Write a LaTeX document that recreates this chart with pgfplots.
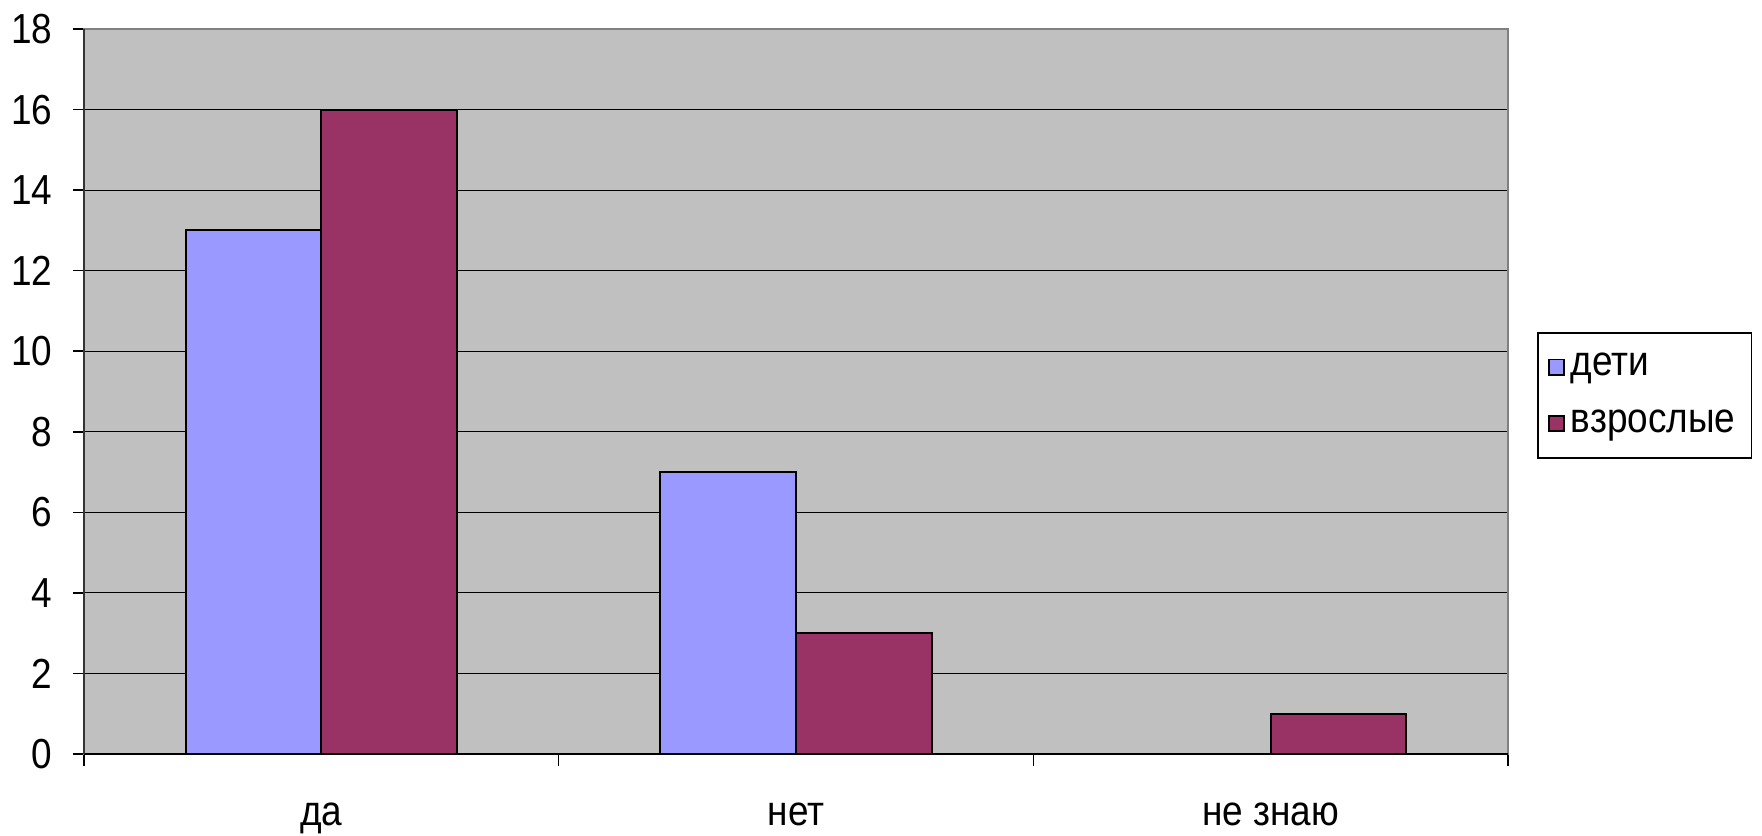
\documentclass[border=0pt]{standalone}
\usepackage{fontspec}
\setmainfont[FakeStretch=0.88]{Liberation Sans}
\usepackage{pgfplots}
\pgfplotsset{compat=1.18}
\definecolor{barblue}{HTML}{9999FF}
\definecolor{barred}{HTML}{993366}
\definecolor{bggray}{HTML}{C0C0C0}
\begin{document}
\begin{tikzpicture}
\useasboundingbox (0,0) rectangle (440.5pt,208.75pt);
\begin{axis}[
  at={(21pt,20.25pt)}, anchor=south west,
  scale only axis, width=356pt, height=181.25pt,
  xmin=0, xmax=3, ymin=0, ymax=18,
  ytick={0,2,...,18},
  xtick={0.5,1.5,2.5},
  xticklabels={да,нет,не знаю},
  minor xtick={0,1,2,3},
  major x tick style={draw=none},
  tick align=outside,
  major tick length=2.75pt, minor tick length=3pt,
  tick style={black, line width=0.4pt},
  xtick pos=bottom, ytick pos=left,
  ymajorgrids, grid style={black, line width=0.3pt},
  axis background/.style={fill=bggray},
  axis line style={draw=black!50, line width=0.5pt},
  /pgf/number format/assume math mode=true,
  tick label style={font=\fontsize{10.5}{12}\selectfont},
  yticklabel style={anchor=east, inner sep=0pt, xshift=-5pt},
  xticklabel style={anchor=base, inner sep=0pt, yshift=-15pt},
  legend style={at={(1.0204,0.582)}, anchor=north west, draw=black, line width=0.4pt,
    fill=white, font=\fontsize{10.5}{12}\selectfont, row sep=3pt,
    inner xsep=2.5pt, inner ysep=3pt,
    nodes={inner xsep=1.5pt}},
  legend cell align=left,
  legend image code/.code={\draw[#1, line width=0.45pt] (0.6pt,-1.9pt) rectangle (4.4pt,1.9pt);},
  after end axis/.code={
    \draw[black, line width=0.5pt] (rel axis cs:0,0) -- (rel axis cs:1,0);
    \draw[black!80, line width=0.5pt] (rel axis cs:0,0) -- (rel axis cs:0,1);
  },
]
\addplot[ybar, bar width=0.2857, bar shift=-0.14286, fill=barblue, draw=black, line width=0.5pt]
  coordinates {(0.5,13) (1.5,7) (2.5,0)};
\addplot[ybar, bar width=0.2857, bar shift=0.14286, fill=barred, draw=black, line width=0.5pt]
  coordinates {(0.5,16) (1.5,3) (2.5,1)};
\legend{дети, взрослые}
\end{axis}
\end{tikzpicture}
\end{document}
